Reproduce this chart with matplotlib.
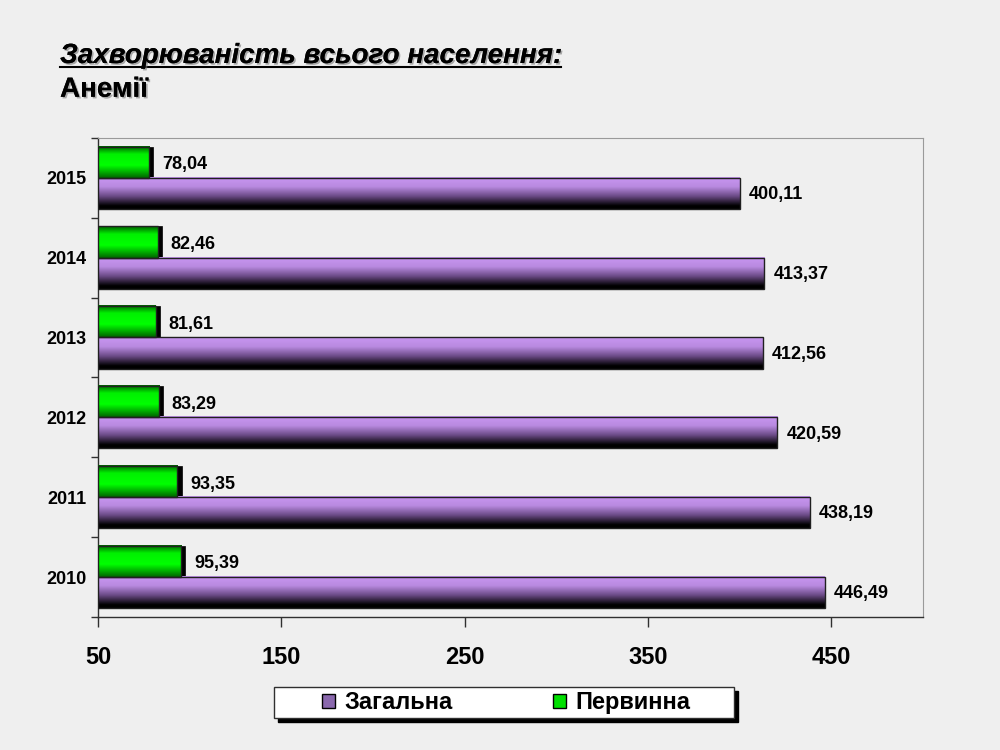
import matplotlib
matplotlib.use("Agg")
import matplotlib.pyplot as plt
import numpy as np
from matplotlib.colors import LinearSegmentedColormap
from matplotlib.patches import Patch, Rectangle
import matplotlib.patheffects as pe

years = ["2010", "2011", "2012", "2013", "2014", "2015"]
zagalna = [446.49, 438.19, 420.59, 412.56, 413.37, 400.11]
pervynna = [95.39, 93.35, 83.29, 81.61, 82.46, 78.04]
xticks = [50, 150, 250, 350, 450]
labels_zag = ["446,49", "438,19", "420,59", "412,56", "413,37", "400,11"]
labels_per = ["95,39", "93,35", "83,29", "81,61", "82,46", "78,04"]

plt.rcParams['font.family'] = ['Liberation Sans', 'DejaVu Sans']
BG = "#efefef"

fig = plt.figure(figsize=(10, 7.5), dpi=100, facecolor=BG)
ax = fig.add_axes([0.098, 0.1773, 0.825, 0.639])
ax.set_facecolor(BG)

purple_cmap = LinearSegmentedColormap.from_list(
    "p", [(0, "#c896f2"), (0.3, "#b98ae0"), (0.6, "#6a4a85"), (0.9, "#000000"), (1.0, "#000000")])
green_cmap = LinearSegmentedColormap.from_list(
    "g", [(0, "#005a00"), (0.25, "#00f000"), (0.6, "#00ff00"), (1.0, "#006400")])
grad = np.linspace(0, 1, 256).reshape(-1, 1)

h = 0.39
xmin = 50
ypos = np.arange(len(years))

bz = ax.barh(ypos - h / 2, np.array(zagalna) - xmin, left=xmin, height=h,
             facecolor="none", edgecolor="#202020", linewidth=1.0, zorder=4)
shadow_dx = 2.2
ax.barh(ypos + h / 2, np.array(pervynna) - xmin + shadow_dx, left=xmin, height=h,
        facecolor="black", edgecolor="black", linewidth=0.5, zorder=2)
bp = ax.barh(ypos + h / 2, np.array(pervynna) - xmin, left=xmin, height=h,
             facecolor="none", edgecolor="#202020", linewidth=1.0, zorder=4)

for bars, cmap in ((bz, purple_cmap), (bp, green_cmap)):
    for r in bars:
        x0, y0 = r.get_x(), r.get_y()
        ax.imshow(grad, cmap=cmap, aspect="auto", origin="upper",
                  extent=[x0, x0 + r.get_width(), y0, y0 + r.get_height()],
                  zorder=3, interpolation="bilinear")

for i in range(len(years)):
    ax.text(zagalna[i] + 5, ypos[i] - h / 2 - 0.015, labels_zag[i], ha="left", va="center",
            fontsize=13, fontweight="bold", zorder=5)
    ax.text(pervynna[i] + 7, ypos[i] + h / 2 - 0.03, labels_per[i], ha="left", va="center",
            fontsize=13, fontweight="bold", zorder=5)

ax.set_xlim(50, 500)
ax.set_ylim(-0.5, len(years) - 0.5)
ax.set_xticks(xticks)
ax.set_xticklabels([str(v) for v in xticks], fontsize=17, fontweight="bold")
ax.tick_params(axis="x", length=7, width=1, color="#303030", pad=14)

ax.set_yticks(np.arange(-0.5, len(years), 1.0))
ax.set_yticklabels([])
ax.tick_params(axis="y", which="major", length=5, width=1, color="#303030")
ax.set_yticks(ypos, minor=True)
ax.set_yticklabels(years, minor=True, fontsize=13, fontweight="bold")
ax.tick_params(axis="y", which="minor", length=0, pad=8)

for s in ("left", "bottom"):
    ax.spines[s].set_color("#303030")
    ax.spines[s].set_linewidth(1.0)
for s in ("top", "right"):
    ax.spines[s].set_color("#9a9a9a")
    ax.spines[s].set_linewidth(0.8)

# legend box (custom frame with black drop shadow)
bx0, by0, bw, bh = 0.274, 0.0427, 0.460, 0.0413
fig.add_artist(Rectangle((bx0 + 0.004, by0 - 0.0053), bw, bh, transform=fig.transFigure,
                         facecolor="black", edgecolor="black", zorder=1))
fig.add_artist(Rectangle((bx0, by0), bw, bh, transform=fig.transFigure,
                         facecolor="white", edgecolor="#303030", linewidth=1.0, zorder=2))
handles = [Patch(facecolor="#8a68ad", edgecolor="black", label="Загальна"),
           Patch(facecolor="#00e000", edgecolor="black", label="Первинна")]
leg = fig.legend(handles=handles, loc="center", bbox_to_anchor=(0.5065, by0 + bh / 2),
                 ncol=2, frameon=False,
                 prop={"size": 17, "weight": "bold"},
                 handlelength=0.55, handleheight=0.55, handletextpad=0.4,
                 columnspacing=4.25, borderpad=0.0, borderaxespad=0)
leg.set_zorder(3)

shadow = [pe.withSimplePatchShadow(offset=(1.2, -1.2), shadow_rgbFace="#777777", alpha=0.6), pe.Normal()]
t1 = fig.text(0.060, 0.916, "Захворюваність всього населення:", fontsize=20,
              fontweight="bold", fontstyle="italic", ha="left", va="baseline",
              path_effects=shadow)
t2 = fig.text(0.060, 0.871, "Анемії", fontsize=20, fontweight="bold",
              ha="left", va="baseline", path_effects=shadow)

fig.canvas.draw()
bb = t1.get_window_extent(fig.canvas.get_renderer())
inv = fig.transFigure.inverted()
(x0, y0), (x1, y1) = inv.transform([[bb.x0, bb.y0], [bb.x1, bb.y1]])
uy = 0.916 - 0.005
fig.add_artist(plt.Line2D([x0, x1], [uy, uy], transform=fig.transFigure,
                          color="black", linewidth=1.5))

fig.savefig("out.png", dpi=100, facecolor=BG)
